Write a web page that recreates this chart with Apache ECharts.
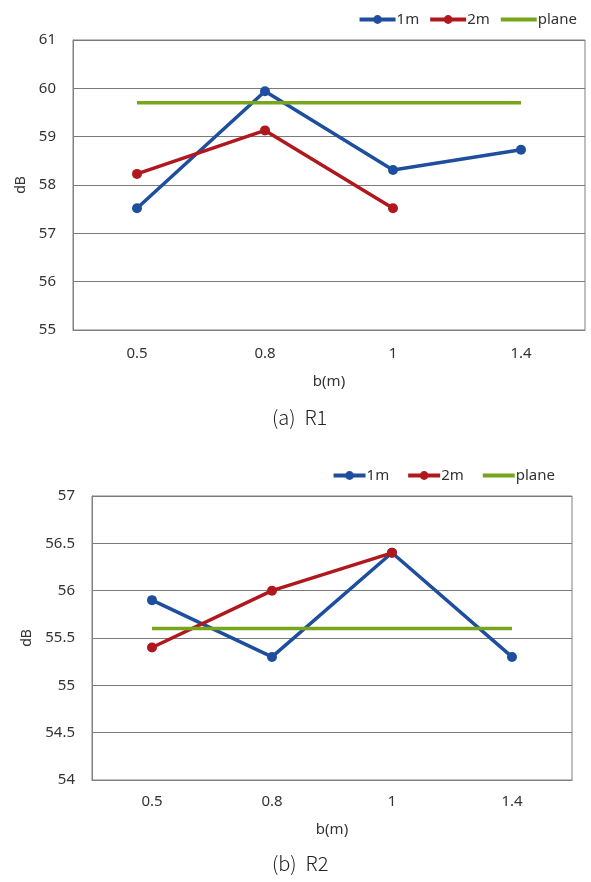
<!DOCTYPE html>
<html>
<head>
<meta charset="utf-8">
<script src="https://cdn.jsdelivr.net/npm/echarts@6/dist/echarts.min.js"></script>
<style>
html,body{margin:0;padding:0;background:#fff;}
#main{width:591px;height:882px;}
</style>
</head>
<body>
<div id="main"></div>
<script>
var categories = ['0.5', '0.8', '1', '1.4'];
var seriesNames = ['1m', '2m', 'plane'];

// (a) R1
var r1m = [57.52, 59.94, 58.31, 58.73];
var r2m = [58.23, 59.13, 57.52, null];
var rPlane = [59.7, 59.7, 59.7, 59.7];

// (b) R2
var s1m = [55.9, 55.3, 56.4, 55.3];
var s2m = [55.4, 56.0, 56.4, null];
var sPlane = [55.6, 55.6, 55.6, 55.6];

var colors = ['#1d4f9e', '#b0181d', '#77a51b'];
var fontFam = 'Noto Sans, DejaVu Sans, sans-serif';

var makeX = function(idx, margin, gap){
	return {
		type: 'category',
		gridIndex: idx,
		data: categories,
		boundaryGap: true,
		name: 'b(m)',
		nameLocation: 'middle',
		nameGap: gap,
		nameTextStyle: {color: '#333', fontSize: 15, fontFamily: fontFam},
		axisLine: {lineStyle: {color: '#808080'}},
		axisTick: {show: false},
		axisLabel: {color: '#333', fontSize: 15, margin: margin, fontFamily: fontFam}
	};
};
var makeY = function(idx, min, max, step, gap){
	return {
		type: 'value',
		gridIndex: idx,
		min: min,
		max: max,
		interval: step,
		name: 'dB',
		nameLocation: 'middle',
		nameGap: gap,
		nameTextStyle: {color: '#333', fontSize: 14, fontFamily: fontFam},
		axisLine: {show: true, lineStyle: {color: '#808080'}},
		axisTick: {show: false},
		axisLabel: {color: '#333', fontSize: 15, margin: 17, fontFamily: fontFam},
		splitLine: {lineStyle: {color: '#7a7a7a', width: 1}}
	};
};
var makeSeries = function(name, data, idx, color, dots){
	return {
		name: name,
		type: 'line',
		xAxisIndex: idx,
		yAxisIndex: idx,
		data: data,
		symbol: dots ? 'circle' : 'none',
		symbolSize: 10,
		showSymbol: dots,
		connectNulls: false,
		itemStyle: {color: color},
		lineStyle: {color: color, width: 3.5},
		z: 3
	};
};
var makeLegend = function(top, right, w, gap){
	return {
		data: [
			{name: seriesNames[0]},
			{name: seriesNames[1]},
			{name: seriesNames[2], itemStyle: {opacity: 0}}
		],
		top: top,
		right: right,
		itemWidth: w,
		itemHeight: 11,
		itemGap: gap,
		lineStyle: {width: 4},
		textStyle: {color: '#333', fontSize: 15, fontFamily: fontFam, padding: [0, 0, 0, -4]}
	};
};

var chart = echarts.init(document.getElementById('main'));
var option = {
	backgroundColor: '#fff',
	animation: false,
	legend: [makeLegend(7, 9, 36, 9), makeLegend(463, 31, 32, 17)],
	grid: [
		{left: 73, right: 6, top: 40, height: 290, show: true, borderColor: '#808080', borderWidth: 1},
		{left: 92, right: 19, top: 496, height: 284, show: true, borderColor: '#808080', borderWidth: 1}
	],
	xAxis: [makeX(0, 16, 44), makeX(1, 14, 42)],
	yAxis: [makeY(0, 55, 61, 1, 44), makeY(1, 54, 57, 0.5, 58)],
	series: [
		makeSeries('1m', r1m, 0, colors[0], true),
		makeSeries('2m', r2m, 0, colors[1], true),
		makeSeries('plane', rPlane, 0, colors[2], false),
		makeSeries('1m', s1m, 1, colors[0], true),
		makeSeries('2m', s2m, 1, colors[1], true),
		makeSeries('plane', sPlane, 1, colors[2], false)
	],
	graphic: [
		{type: 'text', left: 272, top: 407, style: {text: '(a)  R1', fontSize: 20, fill: '#222', fontFamily: 'Noto Sans CJK KR', fontWeight: 300}},
		{type: 'text', left: 272, top: 853, style: {text: '(b)  R2', fontSize: 20, fill: '#222', fontFamily: 'Noto Sans CJK KR', fontWeight: 300}}
	]
};
chart.setOption(option);
</script>
</body>
</html>
